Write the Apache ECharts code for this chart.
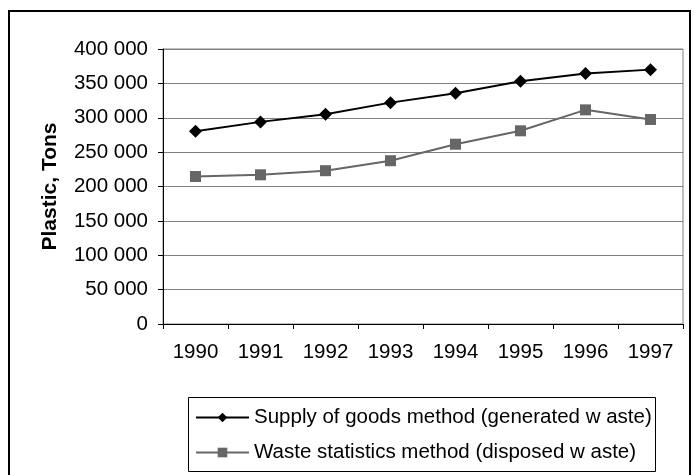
<!DOCTYPE html>
<html>
<head>
<meta charset="utf-8">
<script src="https://cdn.jsdelivr.net/npm/echarts@6/dist/echarts.min.js"></script>
<style>
  html, body { margin: 0; padding: 0; background: #fff; }
  #chart { width: 694px; height: 475px; }
</style>
</head>
<body>
<div id="chart"></div>
<script>
// Plastic waste estimates, 1990-1997 (tons)
const years = ['1990', '1991', '1992', '1993', '1994', '1995', '1996', '1997'];
const supplyOfGoods = [280500, 294000, 305000, 322000, 335500, 353000, 364500, 370000];
const wasteStatistics = [214500, 217000, 223000, 237500, 261500, 281000, 311500, 297500];
const seriesNames = [
  'Supply of goods method (generated w aste)',
  'Waste statistics method (disposed w aste)'
];
const yTicks = { min: 0, max: 400000, interval: 50000 };

const fontFamily = 'Liberation Sans, Arial, sans-serif';

function spaced(v) {
  return String(v).replace(/\B(?=(\d{3})+(?!\d))/g, ' ');
}

const chart = echarts.init(document.getElementById('chart'), null, { renderer: 'canvas' });

chart.setOption({
  animation: false,
  backgroundColor: '#ffffff',
  textStyle: { fontFamily: fontFamily, color: '#000' },
  grid: {
    left: 163, right: 11, top: 49, bottom: 151,
    show: true, borderColor: '#808080', borderWidth: 1
  },
  xAxis: {
    type: 'category',
    data: years,
    boundaryGap: true,
    axisLine: { lineStyle: { color: '#000', width: 1 } },
    axisTick: { show: true, inside: false, length: 5, alignWithLabel: false, lineStyle: { color: '#000' } },
    axisLabel: { margin: 18, fontSize: 20.5, color: '#000', fontFamily: fontFamily },
    splitLine: { show: false }
  },
  yAxis: {
    type: 'value',
    min: yTicks.min, max: yTicks.max, interval: yTicks.interval,
    name: 'Plastic, Tons',
    nameLocation: 'middle',
    nameGap: 102,
    nameRotate: 90,
    nameTextStyle: { fontSize: 21, fontWeight: 'bold', color: '#000', fontFamily: fontFamily },
    axisLine: { show: true, lineStyle: { color: '#000', width: 1 } },
    axisTick: { show: true, inside: false, length: 5, lineStyle: { color: '#000' } },
    axisLabel: { margin: 15, fontSize: 20.5, color: '#000', fontFamily: fontFamily, formatter: spaced },
    splitLine: { show: true, lineStyle: { color: '#808080', width: 1 } }
  },
  legend: {
    orient: 'vertical',
    left: 195, top: 407,
    padding: 0,
    itemWidth: 53, itemHeight: 12,
    itemGap: 14,
    textStyle: { fontSize: 20.5, color: '#000', fontFamily: fontFamily },
    data: seriesNames
  },
  graphic: [
    {
      // outer frame
      type: 'rect', silent: true,
      shape: { x: 9, y: 11, width: 681, height: 480 },
      style: { fill: 'none', stroke: '#000', lineWidth: 2 }
    },
    {
      // legend frame
      type: 'rect', silent: true,
      shape: { x: 188.5, y: 397.5, width: 467, height: 74 },
      style: { fill: 'none', stroke: '#000', lineWidth: 1 }
    }
  ],
  series: [
    {
      name: seriesNames[0],
      type: 'line',
      data: supplyOfGoods,
      symbol: 'diamond',
      symbolSize: 13,
      lineStyle: { color: '#000', width: 2 },
      itemStyle: { color: '#000' },
      z: 3
    },
    {
      name: seriesNames[1],
      type: 'line',
      data: wasteStatistics,
      symbol: 'rect',
      symbolSize: 11,
      lineStyle: { color: '#666666', width: 2 },
      itemStyle: { color: '#666666' },
      z: 2
    }
  ]
});
</script>
</body>
</html>
